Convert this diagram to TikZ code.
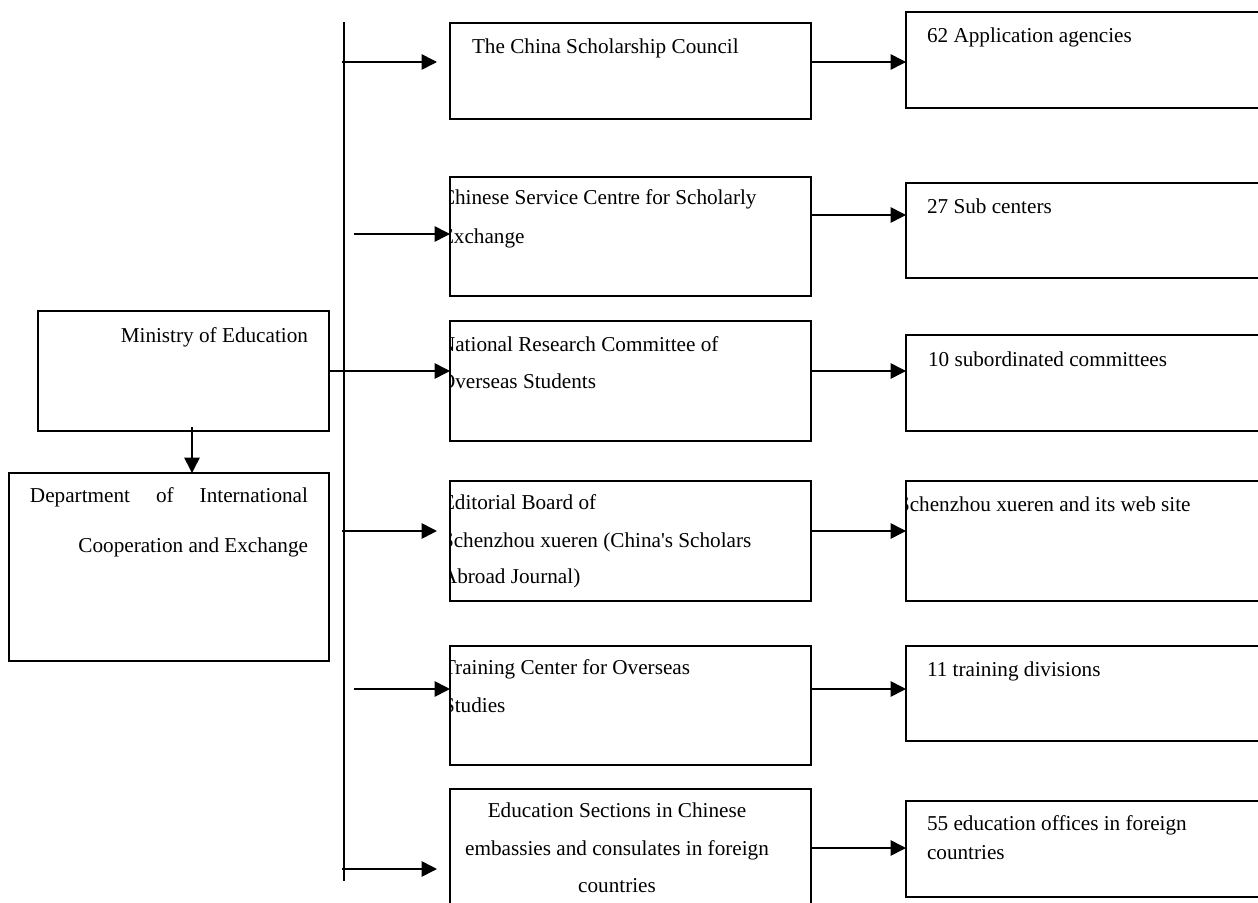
\documentclass[tikz,border=0pt]{standalone}
\usepackage{fontspec}
\setmainfont{Liberation Serif}[Ligatures=TeXOff]
\usetikzlibrary{arrows.meta}
\tikzset{
  box/.style={draw, line width=1.2pt, inner sep=0pt, outer sep=0pt},
  lbl/.style={inner sep=0pt, outer sep=0pt, font=\fontsize{15.9pt}{18pt}\selectfont},
  arr/.style={line width=1.2pt, -{Triangle[length=11.5pt,width=11.5pt]}},
  spine/.style={line width=1.6pt},
}
\begin{document}
\begin{tikzpicture}[x=0.75pt,y=-0.75pt]
\clip (0,0) rectangle (1258,903);
\fill[white] (0,0) rectangle (1258,903);

% boxes
\node[box, minimum width=0.75pt*291, minimum height=0.75pt*120] (min) at (183.5,371) {};
\node[box, minimum width=0.75pt*320, minimum height=0.75pt*188] (dept) at (169,567) {};

\node[box, minimum width=0.75pt*361, minimum height=0.75pt*96] (m1) at (630.5,71) {};
\node[box, minimum width=0.75pt*361, minimum height=0.75pt*119] (m2) at (630.5,236.5) {};
\node[box, minimum width=0.75pt*361, minimum height=0.75pt*120] (m3) at (630.5,381) {};
\node[box, minimum width=0.75pt*361, minimum height=0.75pt*120] (m4) at (630.5,541) {};
\node[box, minimum width=0.75pt*361, minimum height=0.75pt*119] (m5) at (630.5,705.5) {};
\node[box, minimum width=0.75pt*361, minimum height=0.75pt*130] (m6) at (630.5,854) {};

\node[box, minimum width=0.75pt*362, minimum height=0.75pt*96] (r1) at (1087,60) {};
\node[box, minimum width=0.75pt*362, minimum height=0.75pt*95] (r2) at (1087,230.5) {};
\node[box, minimum width=0.75pt*362, minimum height=0.75pt*96] (r3) at (1087,383) {};
\node[box, minimum width=0.75pt*362, minimum height=0.75pt*120] (r4) at (1087,541) {};
\node[box, minimum width=0.75pt*362, minimum height=0.75pt*95] (r5) at (1087,693.5) {};
\node[box, minimum width=0.75pt*362, minimum height=0.75pt*96] (r6) at (1087,849) {};

% texts
\node[lbl, anchor=base east] (tmin) at (308,342) {Ministry of Education};
\node[lbl, anchor=base west] (td1) at (30,502) {\hbox to 208.5pt{Department\hfil of\hfil International}};
\node[lbl, anchor=base east] (td2) at (308,552) {Cooperation and Exchange};

\node[lbl, anchor=base west] (t1) at (472,53) {The China Scholarship Council};
\begin{scope}
\clip (m2.north west) rectangle (m2.south east);
\node[lbl, anchor=base west] (t2a) at (441,204) {Chinese Service Centre for Scholarly};
\node[lbl, anchor=base west] (t2b) at (441,243) {Exchange};
\end{scope}
\begin{scope}
\clip (m3.north west) rectangle (m3.south east);
\node[lbl, anchor=base west] (t3a) at (440,351) {National Research Committee of};
\node[lbl, anchor=base west] (t3b) at (440,388) {Overseas Students};
\end{scope}
\begin{scope}
\clip (m4.north west) rectangle (m4.south east);
\node[lbl, anchor=base west] (t4a) at (442,509) {Editorial Board of};
\node[lbl, anchor=base west] (t4b) at (442,547) {Schenzhou xueren (China's Scholars};
\node[lbl, anchor=base west] (t4c) at (442,583) {Abroad Journal)};
\end{scope}
\begin{scope}
\clip (m5.north west) rectangle (m5.south east);
\node[lbl, anchor=base west] (t5a) at (443,674) {Training Center for Overseas};
\node[lbl, anchor=base west] (t5b) at (443,712) {Studies};
\end{scope}
\node[lbl, anchor=base] (t6a) at (617,817) {Education Sections in Chinese};
\node[lbl, anchor=base] (t6b) at (617,855) {embassies and consulates in foreign};
\node[lbl, anchor=base] (t6c) at (617,892) {countries};

\node[lbl, anchor=base west] (u1) at (927,42) {62 Application agencies};
\node[lbl, anchor=base west] (u2) at (927,213) {27 Sub centers};
\node[lbl, anchor=base west] (u3) at (928,366) {10 subordinated committees};
\begin{scope}
\clip (r4.north west) rectangle (r4.south east);
\node[lbl, anchor=base west] (u4) at (898,511) {Schenzhou xueren and its web site};
\end{scope}
\node[lbl, anchor=base west] (u5) at (927,676) {11 training divisions};
\node[lbl, anchor=base west] (u6a) at (927,830) {55 education offices in foreign};
\node[lbl, anchor=base west] (u6b) at (927,859) {countries};

% spine
\coordinate (top) at (344,22);
\coordinate (bot) at (344,881);
\draw[spine] (top) -- (bot);

% left arrows
\coordinate (s1) at (342,62);
\coordinate (s2) at (354,234);
\coordinate (s4) at (342,531);
\coordinate (s5) at (354,689);
\coordinate (s6) at (342,869);
\draw[arr, shorten >=9.75pt] (s1) -- (s1 -| m1.west);
\draw[arr] (s2) -- (s2 -| m2.west);
\draw[arr] (min.east) -- (min.east -| m3.west);
\draw[arr, shorten >=9.75pt] (s4) -- (s4 -| m4.west);
\draw[arr] (s5) -- (s5 -| m5.west);
\draw[arr, shorten >=9.75pt] (s6) -- (s6 -| m6.west);

% Ministry -> Department
\coordinate (md) at (192,427);
\draw[arr] (md) -- (md |- dept.north);

% right arrows
\coordinate (a1) at (0,62);
\coordinate (a2) at (0,215);
\coordinate (a3) at (0,371);
\coordinate (a4) at (0,531);
\coordinate (a5) at (0,689);
\coordinate (a6) at (0,848);
\draw[arr] (m1.east |- a1) -- (r1.west |- a1);
\draw[arr] (m2.east |- a2) -- (r2.west |- a2);
\draw[arr] (m3.east |- a3) -- (r3.west |- a3);
\draw[arr] (m4.east |- a4) -- (r4.west |- a4);
\draw[arr] (m5.east |- a5) -- (r5.west |- a5);
\draw[arr] (m6.east |- a6) -- (r6.west |- a6);
\end{tikzpicture}
\end{document}
